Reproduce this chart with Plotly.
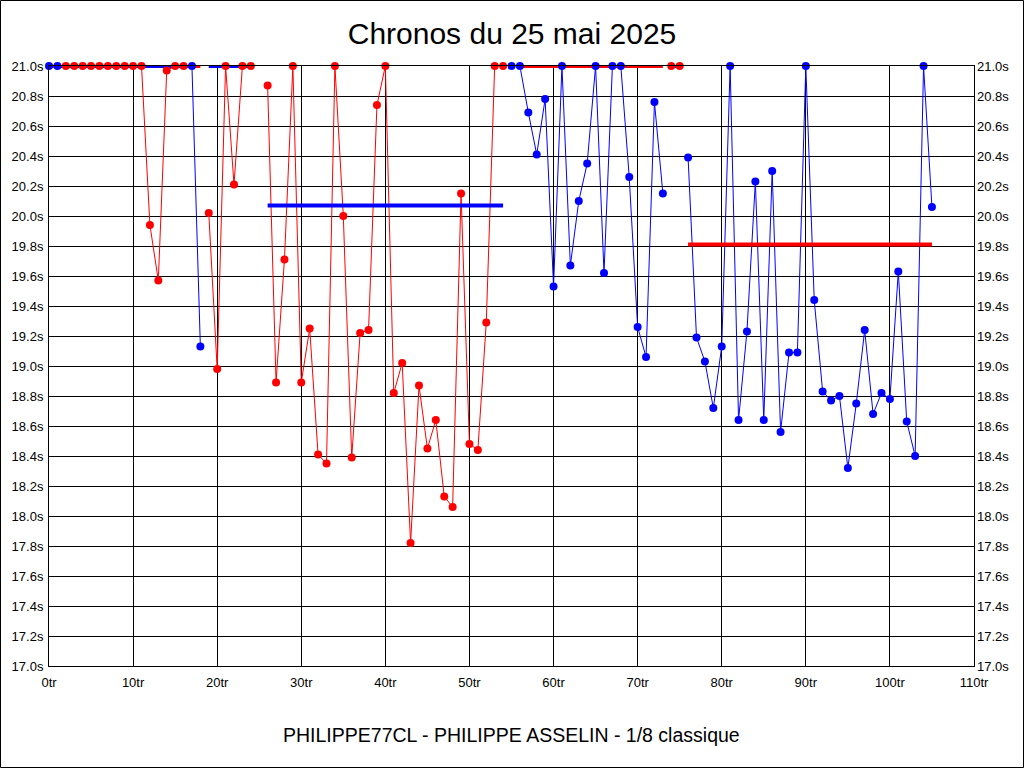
import plotly.graph_objects as go

# Laps ("tr") and lap times (s) per heat, values clipped at 21.0 s as in the chart
heat_start = [0, 2, 17, 19, 26, 55, 74, 76]
heat_color = ["blue", "red", "blue", "red", "red", "blue", "red", "blue"]
heat_times = [
    [21.0, 21.0],
    [21.0, 21.0, 21.0, 21.0, 21.0, 21.0, 21.0, 21.0, 21.0, 21.0, 19.94, 19.57, 20.97, 21.0, 21.0],
    [21.0, 19.13],
    [20.02, 18.98, 21.0, 20.21, 21.0, 21.0],
    [20.87, 18.89, 19.71, 21.0, 18.89, 19.25, 18.41, 18.35, 21.0, 20.0, 18.39, 19.22, 19.24,
     20.74, 21.0, 18.82, 19.02, 17.82, 18.87, 18.45, 18.64, 18.13, 18.06, 20.15, 18.48, 18.44,
     19.29, 21.0, 21.0],
    [21.0, 21.0, 20.69, 20.41, 20.78, 19.53, 21.0, 19.67, 20.10, 20.35, 21.0, 19.62, 21.0, 21.0,
     20.26, 19.26, 19.06, 20.76, 20.15],
    [21.0, 21.0],
    [20.39, 19.19, 19.03, 18.72, 19.13, 21.0, 18.64, 19.23, 20.23, 18.64, 20.30, 18.56, 19.09,
     19.09, 21.0, 19.44, 18.83, 18.77, 18.80, 18.32, 18.75, 19.24, 18.68, 18.82, 18.78, 19.63,
     18.63, 18.40, 21.0, 20.06],
]
# Average line of each heat (value and lap span), drawn in the opposite colour
avg_value = [21.0, 21.0, 21.0, 21.0, 20.07, 21.0, 21.0, 19.81]
avg_from = [0, 1, 17, 19, 26, 56, 74, 76]
avg_to = [1, 17, 18, 24, 54, 73, 75, 105]

title_text = "Chronos du 25 mai 2025"
footer_text = "PHILIPPE77CL - PHILIPPE ASSELIN - 1/8 classique"
x_ticks = [0, 10, 20, 30, 40, 50, 60, 70, 80, 90, 100, 110]
y_ticks = [17.0, 17.2, 17.4, 17.6, 17.8, 18.0, 18.2, 18.4, 18.6, 18.8, 19.0, 19.2, 19.4,
           19.6, 19.8, 20.0, 20.2, 20.4, 20.6, 20.8, 21.0]

COL = {"red": "#FF0000", "blue": "#0000FF"}
OTHER = {"red": "blue", "blue": "red"}
FONT = "Liberation Sans, Arial, sans-serif"

fig = go.Figure()

laps_per_heat = [[s + i for i in range(len(v))] for s, v in zip(heat_start, heat_times)]

# heat lines
for laps, vals, c in zip(laps_per_heat, heat_times, heat_color):
    fig.add_trace(go.Scatter(x=laps, y=vals, mode="lines",
                             line=dict(color=COL[c], width=1), cliponaxis=False,
                             hoverinfo="skip"))
# average lines
for a, x0, x1, c in zip(avg_value, avg_from, avg_to, heat_color):
    fig.add_trace(go.Scatter(x=[x0, x1], y=[a, a], mode="lines",
                             line=dict(color=COL[OTHER[c]], width=4), cliponaxis=False,
                             hoverinfo="skip"))
# markers
for laps, vals, c in zip(laps_per_heat, heat_times, heat_color):
    fig.add_trace(go.Scatter(x=laps, y=vals, mode="markers",
                             marker=dict(color=COL[c], size=8, line=dict(width=0)),
                             cliponaxis=False))

# invisible trace for the right axis
fig.add_trace(go.Scatter(x=[0], y=[17.0], yaxis="y2", mode="markers",
                         marker=dict(opacity=0), hoverinfo="skip"))

W, H = 1024, 768
ML, MR, MT, MB = 49, 50, 66, 102
PW, PH = W - ML - MR, H - MT - MB

axis_font = dict(family=FONT, size=13, color="black")
fig.update_layout(
    width=W, height=H,
    margin=dict(l=ML, r=MR, t=MT, b=MB, pad=0),
    paper_bgcolor="white", plot_bgcolor="white",
    showlegend=False,
    title=dict(text=title_text, x=0.5, xanchor="center", y=1 - 33 / H, yanchor="middle",
               font=dict(family=FONT, size=30, color="black")),
    xaxis=dict(range=[0, 110], tickvals=x_ticks, ticktext=[f"{t}tr" for t in x_ticks],
               showgrid=True, gridcolor="black", gridwidth=1, zeroline=False,
               showline=True, linecolor="black", linewidth=1, mirror=True,
               ticks="", tickfont=axis_font, ticklabelstandoff=4),
    yaxis=dict(range=[17, 21], tickvals=y_ticks, ticktext=[f"{t:.1f}s" for t in y_ticks],
               showgrid=True, gridcolor="black", gridwidth=1, zeroline=False,
               showline=True, linecolor="black", linewidth=1, mirror=True,
               ticks="", tickfont=axis_font, ticklabelstandoff=2),
    yaxis2=dict(range=[17, 21], tickvals=y_ticks, ticktext=[f"{t:.1f}s" for t in y_ticks],
                overlaying="y", side="right", showgrid=False, zeroline=False,
                showline=False, ticks="", tickfont=axis_font, ticklabelstandoff=2),
    annotations=[dict(text=footer_text, xref="paper", yref="paper",
                      x=0.5, y=-(735 - (MT + PH)) / PH, xanchor="center", yanchor="middle",
                      showarrow=False, font=dict(family=FONT, size=19.5, color="black"))],
    shapes=[dict(type="rect", xref="paper", yref="paper",
                 x0=(0.5 - ML) / PW, x1=(W - 0.5 - ML) / PW,
                 y0=(MT + PH - (H - 0.5)) / PH, y1=(MT + PH - 0.5) / PH,
                 line=dict(color="black", width=1), layer="below")],
)

fig.write_html("out.html", config={"displayModeBar": False},
               post_script="document.body.style.margin='0';document.body.style.overflow='hidden';")
